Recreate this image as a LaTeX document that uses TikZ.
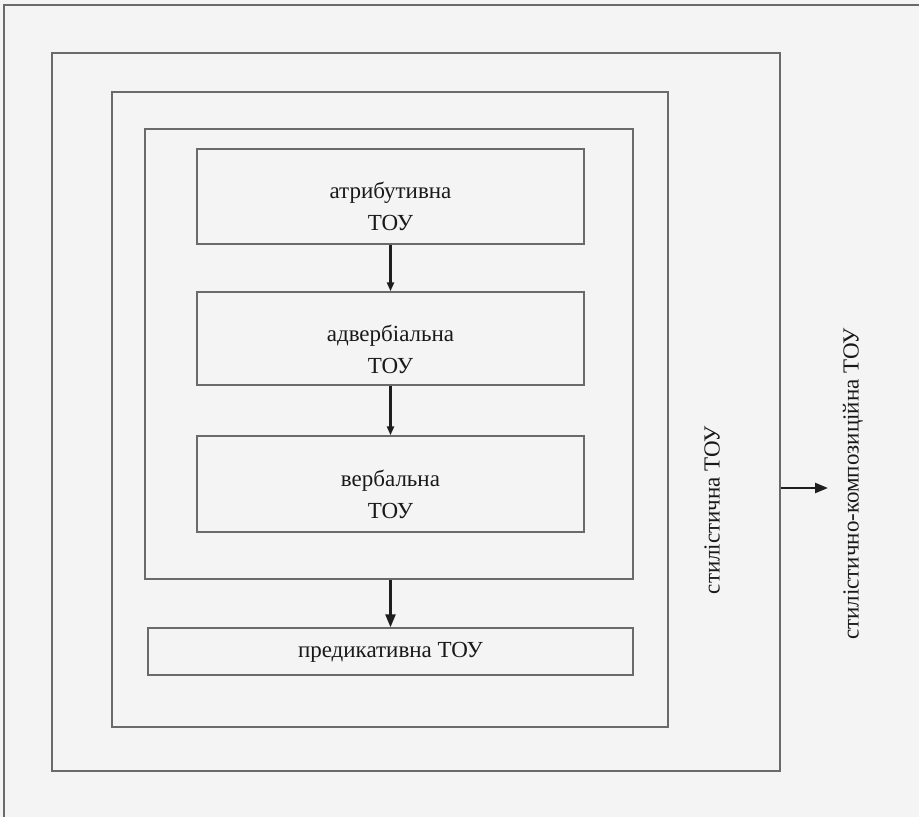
\documentclass[tikz,border=0pt]{standalone}
\usepackage{fontspec}
\setmainfont{Liberation Serif}
\usetikzlibrary{arrows.meta}
\definecolor{framegray}{HTML}{6A6A6A}
\definecolor{arrowdark}{HTML}{1E1E1E}
\definecolor{paper}{HTML}{F4F4F4}
\begin{document}
\begin{tikzpicture}[x=1pt,y=-1pt,
  frame/.style={draw=framegray, line width=1.4pt, inner sep=0pt, rectangle},
  lbl/.style={font=\fontsize{23}{32}\selectfont, align=center, inner sep=0pt, text=black!90},
  conn/.style={draw=arrowdark, line width=2.4pt, -{Triangle[length=9pt,width=7pt]}},
  bigconn/.style={draw=arrowdark, line width=2.4pt, -{Triangle[length=13pt,width=10pt]}}]
\fill[paper] (0,0) rectangle (919,817);
\useasboundingbox (0,0) rectangle (919,817);
% outer frame (right and bottom edges lie beyond the picture)
\draw[framegray, line width=1.4pt] (919,5) -- (4,5) -- (4,817);
\node[frame, minimum width=728pt, minimum height=718pt] (stil) at (416,412) {};
\node[frame, minimum width=556pt, minimum height=635pt] (grp) at (390,409.5) {};
\node[frame, minimum width=488pt, minimum height=450pt] (inner) at (389,354) {};
\node[frame, minimum width=387pt, minimum height=95pt] (atr) at (390.5,196.5) {};
\node[frame, minimum width=387pt, minimum height=93pt] (adv) at (390.5,338.5) {};
\node[frame, minimum width=387pt, minimum height=96pt] (verb) at (390.5,484) {};
\node[frame, minimum width=485pt, minimum height=47pt] (pred) at (390.5,651.5) {};
\node[lbl] (atrT) at (390.5,206) {атрибутивна\\ТОУ};
\node[lbl] (advT) at (390.5,349) {адвербіальна\\ТОУ};
\node[lbl] (verbT) at (390.5,494) {вербальна\\ТОУ};
\node[lbl] (predT) at (390.5,652) {предикативна ТОУ};
\node[lbl, rotate=90] (stilT) at (712,510) {стилістична ТОУ};
\node[lbl, rotate=90] (kompT) at (853,484) {стилістично-композиційна ТОУ};
\coordinate (kompArr) at (828,488);
\draw[conn] (atr.south) -- (adv.north);
\draw[conn] (adv.south) -- (verb.north);
\draw[bigconn] (pred.north |- inner.south) -- (pred.north);
\draw[bigconn] (stil.east |- kompArr) -- (kompArr);
\end{tikzpicture}
\end{document}
